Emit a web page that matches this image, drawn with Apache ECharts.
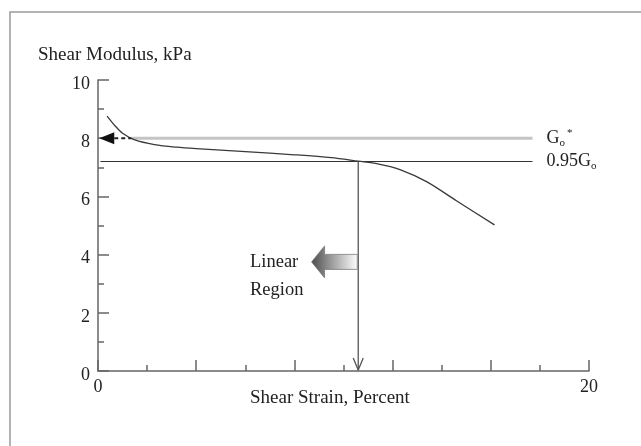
<!DOCTYPE html>
<html>
<head>
<meta charset="utf-8">
<script src="https://cdn.jsdelivr.net/npm/echarts@6/dist/echarts.min.js"></script>
<style>
  html, body { margin: 0; padding: 0; background: #fff; }
  #chart { width: 641px; height: 446px; }
</style>
</head>
<body>
<div id="chart"></div>
<script>
// Shear modulus degradation curve (percent strain vs kPa)
const strain  = [0.37, 0.7, 1.0, 1.5, 2.3, 3.2, 4.0, 6.0, 8.0, 9.5, 10.6, 11.4, 12.3, 13.4, 14.6, 16.15];
const modulus = [8.76, 8.42, 8.17, 7.94, 7.78, 7.69, 7.64, 7.54, 7.43, 7.33, 7.21, 7.12, 6.92, 6.5, 5.85, 5.02];

// Reference levels
const goStar = 8.0;          // G_o*
const go95 = 7.2;            // 0.95 G_o
const refStartGoStar = 1.35; // where the G_o* line starts
const refStart95 = 0.1;
const refEnd = 17.7;
const linearLimit = 10.6;    // strain where the curve meets 0.95 G_o
const linearArrowY = 3.75;
const linearArrowTip = 8.7;
const goArrowTip = 0.05;

// Axes
const xRange = [0, 20];
const xLabelled = [0, 20];
const yRange = [0, 10];

const FONT = '"Liberation Serif", "Times New Roman", serif';
const TXT = '#222';
const AX = '#666';

const chart = echarts.init(document.getElementById('chart'), null, { renderer: 'canvas' });

const option = {
  animation: false,
  backgroundColor: '#fff',
  textStyle: { fontFamily: FONT },
  grid: { left: 98, right: 52, top: 80, bottom: 75, containLabel: false },
  xAxis: {
    type: 'value', min: xRange[0], max: xRange[1], interval: 4,
    axisLine: { lineStyle: { color: AX, width: 1.5 } },
    axisTick: { inside: true, length: 11, lineStyle: { color: AX, width: 1.5 } },
    minorTick: { show: true, splitNumber: 2, length: 6, lineStyle: { color: AX, width: 1.5 } },
    axisLabel: {
      margin: 7, fontSize: 18, color: TXT, fontFamily: FONT,
      formatter: v => (xLabelled.indexOf(v) >= 0 ? String(v) : '')
    },
    splitLine: { show: false }
  },
  yAxis: {
    type: 'value', min: yRange[0], max: yRange[1], interval: 2,
    axisLine: { show: true, lineStyle: { color: AX, width: 1.5 } },
    axisTick: { show: true, inside: true, length: 11, lineStyle: { color: AX, width: 1.5 } },
    minorTick: { show: true, splitNumber: 2, length: 6, lineStyle: { color: AX, width: 1.5 } },
    axisLabel: {
      margin: 8, color: TXT, fontFamily: FONT, fontSize: 18,
      formatter: v => '{n|' + v + '}',
      rich: { n: { fontSize: 18, fontFamily: FONT, color: TXT, padding: [8, 0, 0, 0] } }
    },
    splitLine: { show: false }
  },
  graphic: [
    { type: 'rect', shape: { x: 10, y: 12, width: 700, height: 500 },
      style: { fill: 'none', stroke: '#9a9a9a', lineWidth: 1.5 }, z: 0 },
    { type: 'text', left: 38, top: 46,
      style: { text: 'Shear Modulus, kPa', font: '19px ' + FONT, fill: TXT } },
    { type: 'text', left: 250, top: 389,
      style: { text: 'Shear Strain, Percent', font: '19px ' + FONT, fill: TXT } },
    { type: 'text', left: 250, top: 253,
      style: { text: 'Linear', font: '18.5px ' + FONT, fill: TXT } },
    { type: 'text', left: 250, top: 281,
      style: { text: 'Region', font: '18.5px ' + FONT, fill: TXT } }
  ],
  series: [
    {
      // G_o* reference level
      type: 'line', data: [[refStartGoStar, goStar], [refEnd, goStar]],
      symbol: 'none', lineStyle: { color: '#c4c4c4', width: 3 }, z: 2,
      endLabel: {
        show: true, distance: 14, color: TXT, fontFamily: FONT,
        formatter: 'G{sub|o}{sup|*}',
        rich: {
          sub: { fontSize: 11, fontFamily: FONT, color: TXT, padding: [10, 0, 0, 0] },
          sup: { fontSize: 11, fontFamily: FONT, color: TXT, padding: [0, 0, 10, 2] }
        },
        fontSize: 18
      }
    },
    {
      // 0.95 G_o reference level
      type: 'line', data: [[refStart95, go95], [refEnd, go95]],
      symbol: 'none', lineStyle: { color: '#333', width: 1.2 }, z: 3,
      endLabel: {
        show: true, distance: 14, color: TXT, fontFamily: FONT, fontSize: 18,
        formatter: '0.95G{sub|o}',
        rich: { sub: { fontSize: 11, fontFamily: FONT, color: TXT, padding: [10, 0, 0, 0] } }
      }
    },
    {
      // Modulus curve
      type: 'line', data: strain.map((x, i) => [x, modulus[i]]),
      symbol: 'none', smooth: 0.3,
      lineStyle: { color: '#3a3a3a', width: 1.3 }, z: 4
    },
    {
      // Vertical arrow at the linear limit
      type: 'custom', data: [[linearLimit, go95]], z: 5,
      renderItem: (params, api) => {
        const top = api.coord([api.value(0), api.value(1)]);
        const bot = api.coord([api.value(0), 0]);
        return {
          type: 'group', children: [
            { type: 'line', shape: { x1: top[0], y1: top[1], x2: bot[0], y2: bot[1] - 1 },
              style: { stroke: '#555', lineWidth: 1.3 } },
            { type: 'polyline', shape: { points: [[bot[0] - 5, bot[1] - 13], [bot[0], bot[1] - 1], [bot[0] + 5, bot[1] - 13]] },
              style: { stroke: '#555', lineWidth: 1.3, fill: 'none' } }
          ]
        };
      }
    },
    {
      // Block arrow pointing into the linear region
      type: 'custom', data: [[linearLimit, linearArrowY, linearArrowTip]], z: 6,
      renderItem: (params, api) => {
        const r = api.coord([api.value(0), api.value(1)]);
        const l = api.coord([api.value(2), api.value(1)]);
        const cy = r[1], lx = l[0], rx = r[0] - 1;
        const hl = 13, hh = 16, sh = 7.5;
        return {
          type: 'polygon',
          shape: { points: [[lx, cy], [lx + hl, cy - hh], [lx + hl, cy - sh], [rx, cy - sh],
                            [rx, cy + sh], [lx + hl, cy + sh], [lx + hl, cy + hh]] },
          style: {
            fill: new echarts.graphic.LinearGradient(0, 0, 1, 0, [
              { offset: 0, color: '#4a4a4a' }, { offset: 0.35, color: '#8c8c8c' }, { offset: 1, color: '#ffffff' }
            ]),
            stroke: '#7a7a7a', lineWidth: 0.8
          }
        };
      }
    },
    {
      // Dashed arrow pointing at G_o* on the modulus axis
      type: 'custom', data: [[goArrowTip, goStar, refStartGoStar]], z: 6,
      renderItem: (params, api) => {
        const t = api.coord([api.value(0), api.value(1)]);
        const e = api.coord([api.value(2), api.value(1)]);
        const hl = 15;
        return {
          type: 'group', children: [
            { type: 'polygon', shape: { points: [[t[0], t[1]], [t[0] + hl, t[1] - 6], [t[0] + hl, t[1] + 6]] },
              style: { fill: '#111' } },
            { type: 'line', shape: { x1: t[0] + hl, y1: t[1], x2: e[0], y2: e[1] },
              style: { stroke: '#222', lineWidth: 2, lineDash: [4, 3] } }
          ]
        };
      }
    }
  ]
};

chart.setOption(option);
</script>
</body>
</html>
